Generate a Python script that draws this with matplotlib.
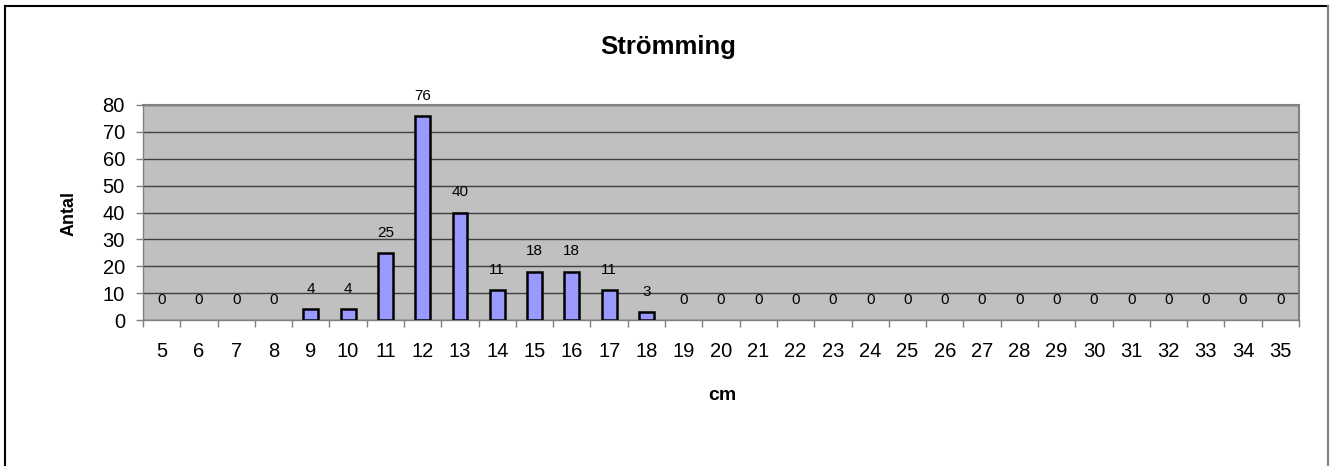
import matplotlib
matplotlib.use('Agg')
import matplotlib.pyplot as plt
from matplotlib.lines import Line2D
import numpy as np

plt.rcParams['font.family'] = ['Liberation Sans', 'DejaVu Sans']

# Length classes (cm) and counts
cm_classes = list(range(5, 36))
antal = [0, 0, 0, 0, 4, 4, 25, 76, 40, 11, 18, 18, 11, 3,
         0, 0, 0, 0, 0, 0, 0, 0, 0, 0, 0, 0, 0, 0, 0, 0, 0]
y_ticks = [0, 10, 20, 30, 40, 50, 60, 70, 80]

W, H = 1335, 466
fig = plt.figure(figsize=(W / 100, H / 100), dpi=100)
fig.patch.set_facecolor('white')

# outer chart border (open at the bottom)
fig.add_artist(Line2D([5 / W, 1328 / W], [1 - 6 / H, 1 - 6 / H], color='black', lw=1.5))
fig.add_artist(Line2D([5 / W, 5 / W], [0, 1 - 6 / H], color='black', lw=1.5))
fig.add_artist(Line2D([1328 / W, 1328 / W], [0, 1 - 6 / H], color='#808080', lw=1.5))

ax = fig.add_axes([143 / W, 1 - 320 / H, (1299 - 143) / W, (320 - 105) / H])
ax.set_facecolor('#c0c0c0')

x = np.arange(len(cm_classes))
# no outline for empty classes (Excel draws nothing there)
edge_w = [1.8 if v > 0 else 0 for v in antal]
ax.bar(x, antal, width=0.4, color='#9999ff', edgecolor='black', linewidth=edge_w, zorder=3)

# value labels ~20 px above bar top
for xi, v in zip(x, antal):
    ax.annotate(str(v), (xi, v), xytext=(0, 14.5), textcoords='offset points',
                ha='center', va='center', fontsize=11, zorder=4)

ax.set_xlim(-0.5, len(cm_classes) - 0.5)
ax.set_ylim(0, 80)

# category labels at centers, tick marks at boundaries
ax.set_xticks(x)
ax.set_xticklabels([str(c) for c in cm_classes], fontsize=14.5)
ax.tick_params(axis='x', which='major', length=0, pad=16)
ax.set_xticks(np.arange(-0.5, len(cm_classes)), minor=True)
ax.tick_params(axis='x', which='minor', length=5, width=1, color='#808080')

ax.set_yticks(y_ticks)
ax.set_yticklabels([str(t) for t in y_ticks], fontsize=14.5)
ax.tick_params(axis='y', length=5, width=1, color='#808080', pad=8)

ax.yaxis.grid(True, color='#404040', linewidth=1, zorder=0)
ax.set_axisbelow(True)

for side in ['top', 'right']:
    ax.spines[side].set_color('#808080')
    ax.spines[side].set_linewidth(1.5)
for side in ['left', 'bottom']:
    ax.spines[side].set_color('#808080')
    ax.spines[side].set_linewidth(1)

fig.text(668 / W, 1 - 47 / H, 'Strömming', ha='center', va='center',
         fontsize=18.5, fontweight='bold')
fig.text(722 / W, 1 - 395 / H, 'cm', ha='center', va='center',
         fontsize=14, fontweight='bold')
fig.text(69 / W, 1 - 214 / H, 'Antal', ha='center', va='center',
         fontsize=13, fontweight='bold', rotation=90)

fig.savefig('out.png', dpi=100)
